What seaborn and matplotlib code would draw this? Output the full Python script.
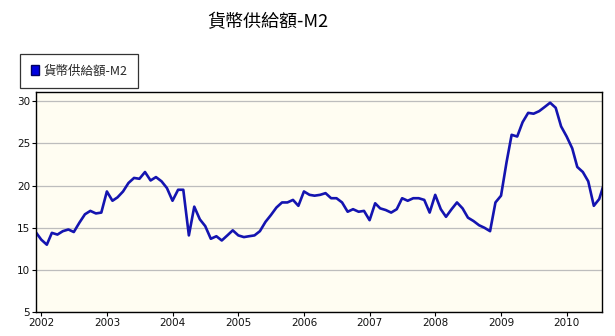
import matplotlib
matplotlib.use("Agg")
import matplotlib.pyplot as plt
from matplotlib.patches import Patch
import seaborn as sns
import pandas as pd

title = "貨幣供給額-M2"
series_name = "貨幣供給額-M2"
start_month = "2001-12-01"
values = [
    14.5, 13.6, 13.0, 14.4, 14.2, 14.6, 14.8, 14.5, 15.6, 16.6, 17.0, 16.7,  # Dec01-Nov02
    16.8, 19.3, 18.2, 18.6, 19.3, 20.3, 20.9, 20.8, 21.6, 20.6, 21.0, 20.5,  # Dec02-Nov03
    19.7, 18.2, 19.5, 19.5, 14.1, 17.5, 16.0, 15.2, 13.7, 14.0, 13.5, 14.1,  # Dec03-Nov04
    14.7, 14.1, 13.9, 14.0, 14.1, 14.6, 15.7, 16.5, 17.4, 18.0, 18.0, 18.3,  # Dec04-Nov05
    17.6, 19.3, 18.9, 18.8, 18.9, 19.1, 18.5, 18.5, 18.0, 16.9, 17.2, 16.9,  # Dec05-Nov06
    17.0, 15.9, 17.9, 17.3, 17.1, 16.8, 17.2, 18.5, 18.2, 18.5, 18.5, 18.3,  # Dec06-Nov07
    16.8, 18.9, 17.2, 16.3, 17.2, 18.0, 17.3, 16.2, 15.8, 15.3, 15.0, 14.6,  # Dec07-Nov08
    18.0, 18.8, 22.8, 26.0, 25.8, 27.5, 28.6, 28.5, 28.8, 29.3, 29.8, 29.2,  # Dec08-Nov09
    27.0, 25.8, 24.4, 22.2, 21.6, 20.5, 17.6, 18.4, 20.5,                    # Dec09-Aug10
]
year_ticks = [2002, 2003, 2004, 2005, 2006, 2007, 2008, 2009, 2010]
y_ticks = [5, 10, 15, 20, 25, 30]

dates = pd.date_range(start_month, periods=len(values), freq="MS")
df = pd.DataFrame({"date": dates, "value": values})

sns.set_theme(style="white")
plt.rcParams["font.family"] = ["Noto Sans CJK TC", "DejaVu Sans"]

fig = plt.figure(figsize=(6.15, 3.36), dpi=100)
fig.patch.set_facecolor("white")
ax = fig.add_axes([0.058, 0.0705, 0.921, 0.6565])
ax.set_facecolor("#FFFDF2")

line_color = "#1414B0"
sns.lineplot(data=df, x="date", y="value", ax=ax, color=line_color, lw=1.9, legend=False)
for ln in ax.get_lines():
    ln.set_solid_joinstyle("round")

ax.set_ylim(5, 31.1)
ax.set_xlim(pd.Timestamp("2001-12-01"), pd.Timestamp("2010-07-17"))
ax.set_yticks(y_ticks)
ax.set_xticks([pd.Timestamp(f"{y}-01-01") for y in year_ticks])
ax.set_xticklabels([str(y) for y in year_ticks], fontsize=7.5, family="DejaVu Sans")
ax.set_yticklabels([str(v) for v in y_ticks], fontsize=7.5, family="DejaVu Sans")
ax.set_xlabel("")
ax.set_ylabel("")
ax.grid(axis="y", color="#BDBDBD", lw=0.9)
ax.grid(axis="x", visible=False)
ax.set_axisbelow(True)
for s in ax.spines.values():
    s.set_color("black")
    s.set_linewidth(1.0)
ax.tick_params(axis="both", which="both", length=3, width=0.8, color="black",
               direction="out", pad=1, left=True, bottom=True, labelcolor="#111111")

fig.text(0.435, 0.935, title, ha="center", va="center", fontsize=13,
         family=["Noto Sans CJK TC", "DejaVu Sans"], color="black")

handle = Patch(facecolor="#0000E0", edgecolor="#000060", label=series_name)
leg = fig.legend(handles=[handle], loc="lower left", bbox_to_anchor=(0.0325, 0.738),
                 borderaxespad=0, frameon=True, fancybox=False,
                 handlelength=0.65, handleheight=0.75, handletextpad=0.35,
                 borderpad=0.85, prop={"family": ["Noto Sans CJK TC", "DejaVu Sans"], "size": 9})
leg.get_frame().set_edgecolor("black")
leg.get_frame().set_linewidth(0.9)
leg.get_frame().set_facecolor("white")

fig.savefig("out.png", dpi=100)
